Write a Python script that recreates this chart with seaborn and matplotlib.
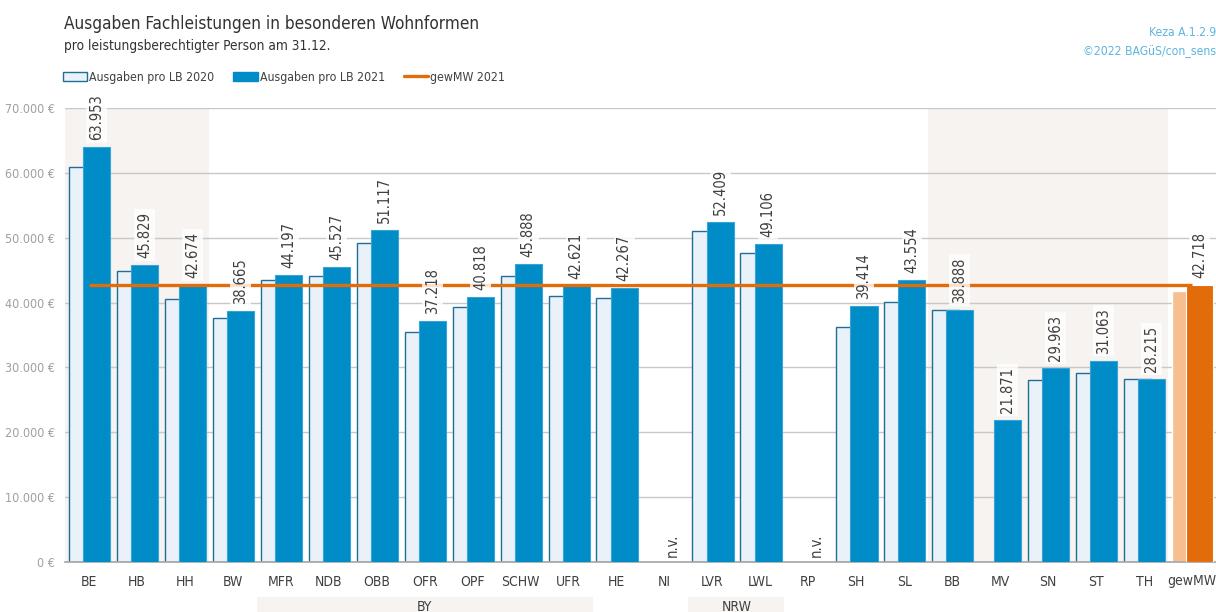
import matplotlib
matplotlib.use("Agg")
import numpy as np
import pandas as pd
import matplotlib.pyplot as plt
import seaborn as sns
from matplotlib.patches import Patch, Rectangle
from matplotlib.lines import Line2D

# Daten
kategorien = ["BE", "HB", "HH", "BW", "MFR", "NDB", "OBB", "OFR", "OPF", "SCHW", "UFR",
              "HE", "NI", "LVR", "LWL", "RP", "SH", "SL", "BB", "MV", "SN", "ST", "TH", "gewMW"]
ausgaben_2020 = [60860, 44860, 40510, 37690, 43430, 44150, 49170, 35480, 39320, 44050, 41080,
                 40710, np.nan, 51080, 47630, np.nan, 36250, 40150, 38800, np.nan, 28050, 29080,
                 28150, 41740]
ausgaben_2021 = [63953, 45829, 42674, 38665, 44197, 45527, 51117, 37218, 40818, 45888, 42621,
                 42267, np.nan, 52409, 49106, np.nan, 39414, 43554, 38888, 21871, 29963, 31063,
                 28215, 42718]
gew_mw_2021 = 42718
y_ticks = [0, 10000, 20000, 30000, 40000, 50000, 60000, 70000]
schattiert = [("BE", "HH"), ("BB", "TH")]
gruppen = [("BY", "MFR", "UFR"), ("NRW", "LVR", "LWL")]

df = pd.DataFrame({"Kategorie": kategorien, "2020": ausgaben_2020, "2021": ausgaben_2021})

# Farben
BLAU = "#008CC6"
HELL = "#EAF2F9"
RAND = "#1E6E99"
ORANGE = "#E36C0A"
HELLORANGE = "#F8BF8E"
GRAU_BG = "#F6F3F0"
TEXT = "#404040"

sns.set_theme(style="white")
plt.rcParams["font.family"] = ["DejaVu Sans"]
plt.rcParams["font.stretch"] = "condensed"

fig = plt.figure(figsize=(12.16, 6.12), dpi=100)
ax = fig.add_axes([65 / 1216, 50 / 612, 1151 / 1216, 454 / 612])

n = len(kategorien)
idx = {k: i for i, k in enumerate(kategorien)}

# Hintergrund-Schattierung
for a, b in schattiert:
    ax.axvspan(idx[a] - 0.5, idx[b] + 0.5, color=GRAU_BG, zorder=0, lw=0)

# Balken 2020 und 2021 (überlappend)
breite = 0.565
sns.barplot(data=df, x="Kategorie", y="2020", order=kategorien, width=breite, color=HELL,
            edgecolor=RAND, linewidth=1, saturation=1, errorbar=None, ax=ax)
sns.barplot(data=df, x="Kategorie", y="2021", order=kategorien, width=breite, color=BLAU,
            edgecolor="#3AA3D6", linewidth=0.8, saturation=1, errorbar=None, ax=ax)

for cont, shift, farbe_mw in [(ax.containers[0], -0.135, HELLORANGE), (ax.containers[1], 0.16, ORANGE)]:
    for p in cont.patches:
        mitte = p.get_x() + p.get_width() / 2
        p.set_x(p.get_x() + shift)
        p.set_zorder(2 if shift < 0 else 3)
        if round(mitte) == idx["gewMW"]:
            p.set_facecolor(farbe_mw)
            p.set_edgecolor("white")

# gewichteter Mittelwert
ax.hlines(gew_mw_2021, 0, idx["gewMW"], color=ORANGE, lw=2.4, zorder=4)

# Werte-Beschriftung
for i, v in enumerate(ausgaben_2021):
    if np.isnan(v):
        ax.annotate("n.v.", (i + 0.16, 0), xytext=(0, 5), textcoords="offset pixels",
                    rotation=90, ha="center", va="bottom", fontsize=10.5, color=TEXT, zorder=5)
        continue
    txt = f"{v:,.0f}".replace(",", ".")
    ax.annotate(txt, (i + 0.16, v), xytext=(0, 7), textcoords="offset pixels",
                rotation=90, ha="center", va="bottom", fontsize=10.5, color=TEXT, zorder=5,
                bbox=dict(boxstyle="square,pad=0.2", fc="white", ec="none", alpha=0.8))

# Achsen
ax.set_xlim(-0.5, n - 0.5)
ax.set_ylim(0, 70000)
ax.set_yticks(y_ticks)
ax.set_yticklabels([f"{t:,.0f} €".replace(",", ".") for t in y_ticks])
ax.set_xlabel("")
ax.set_ylabel("")
ax.yaxis.grid(True, color="#C8C8C8", lw=1)
ax.set_axisbelow(True)
for s in ["left", "right", "top"]:
    ax.spines[s].set_visible(False)
ax.spines["bottom"].set_color("#A8A8A8")
ax.tick_params(axis="y", length=0, pad=7, labelsize=9, labelcolor="#A0A0A0")
ax.tick_params(axis="x", which="major", length=0, pad=9, labelsize=10, labelcolor=TEXT)
ax.set_xticks(np.arange(-0.5, n, 1), minor=True)
ax.tick_params(axis="x", which="minor", length=4, color="#A8A8A8", width=1)

# Gruppen unter der Achse
trans = ax.get_xaxis_transform()
for name, a, b in gruppen:
    x0, x1 = idx[a] - 0.5, idx[b] + 0.5
    ax.add_patch(Rectangle((x0, -0.115), x1 - x0, 0.038, transform=trans, color=GRAU_BG,
                           clip_on=False, lw=0))
    ax.text((x0 + x1) / 2, -0.099, name, transform=trans, ha="center", va="center",
            fontsize=10, color=TEXT)

# Titel
fig.text(64 / 1216, 1 - 24 / 612, "Ausgaben Fachleistungen in besonderen Wohnformen",
         fontsize=12.3, color="#333333", va="center")
fig.text(64 / 1216, 1 - 46 / 612, "pro leistungsberechtigter Person am 31.12.",
         fontsize=9.8, color="#333333", va="center")
fig.text(1, 1 - 33 / 612, "Keza A.1.2.9", fontsize=8.7, color="#5DB6DE", ha="right", va="center")
fig.text(1, 1 - 51 / 612, "©2022 BAGüS/con_sens", fontsize=8.7, color="#5DB6DE", ha="right", va="center")

# Legende
handles = [Patch(fc=HELL, ec=RAND, lw=1), Patch(fc=BLAU, ec=BLAU), Line2D([], [], color=ORANGE, lw=2.4)]
labels = ["Ausgaben pro LB 2020", "Ausgaben pro LB 2021", "gewMW 2021"]
fig.legend(handles, labels, loc="center left", bbox_to_anchor=(63 / 1216, 1 - 77 / 612), ncol=3,
           frameon=False, fontsize=8.8, handlelength=2.0, handleheight=0.7, handletextpad=0.15,
           columnspacing=1.55, borderpad=0, borderaxespad=0, labelcolor=TEXT)

fig.savefig("out.png", dpi=100)
